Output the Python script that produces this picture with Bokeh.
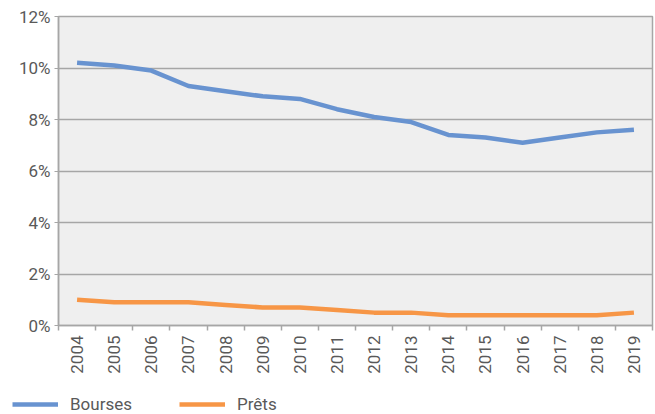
from bokeh.plotting import figure
from bokeh.models import FixedTicker, PrintfTickFormatter, Legend, LegendItem, Range1d
from bokeh.layouts import column, row
from bokeh.embed import file_html
from bokeh.resources import INLINE
import math

years = ["2004", "2005", "2006", "2007", "2008", "2009", "2010", "2011",
         "2012", "2013", "2014", "2015", "2016", "2017", "2018", "2019"]
bourses = [10.2, 10.1, 9.9, 9.3, 9.1, 8.9, 8.8, 8.4, 8.1, 7.9, 7.4, 7.3, 7.1, 7.3, 7.5, 7.6]
prets = [1.0, 0.9, 0.9, 0.9, 0.8, 0.7, 0.7, 0.6, 0.5, 0.5, 0.4, 0.4, 0.4, 0.4, 0.4, 0.5]
series_names = ["Bourses", "Prêts"]
y_ticks = [0, 2, 4, 6, 8, 10, 12]

n = len(years)
xs = [i + 0.5 for i in range(n)]

TEXT = "#595959"
GRID = "#A6A6A6"
FONT = "Roboto"
FS = "17px"
BLUE = "#6893D0"
ORANGE = "#F79646"

p = figure(width=655, height=380, output_backend="svg", toolbar_location=None,
           x_range=Range1d(0, n), y_range=Range1d(0, 12),
           min_border_left=58, min_border_right=3, min_border_top=16, min_border_bottom=55)
p.background_fill_color = "#EFEFEF"
p.border_fill_color = "white"
p.outline_line_color = GRID
p.outline_line_width = 1.5

p.line(xs, bourses, line_color=BLUE, line_width=4.5, line_join="round")
p.line(xs, prets, line_color=ORANGE, line_width=4.5, line_join="round")

# x axis
xa = p.xaxis[0]
xa.ticker = FixedTicker(ticks=xs, minor_ticks=list(range(n + 1)))
xa.major_label_overrides = {x: y for x, y in zip(xs, years)}
xa.major_label_orientation = math.pi / 2
xa.major_tick_line_color = None
xa.minor_tick_line_color = GRID
xa.minor_tick_out = 5
xa.minor_tick_in = 0
xa.minor_tick_line_width = 1.5
xa.axis_line_color = GRID
xa.axis_line_width = 1.5
xa.major_label_text_font = FONT
xa.major_label_text_font_size = FS
xa.major_label_text_color = TEXT
xa.major_label_standoff = 4

# y axis
ya = p.yaxis[0]
ya.ticker = FixedTicker(ticks=y_ticks)
ya.formatter = PrintfTickFormatter(format="%d%%")
ya.major_tick_line_color = GRID
ya.major_tick_out = 4
ya.major_tick_in = 0
ya.minor_tick_line_color = None
ya.axis_line_color = GRID
ya.axis_line_width = 1.5
ya.major_label_text_font = FONT
ya.major_label_text_font_size = FS
ya.major_label_text_color = TEXT
ya.major_label_standoff = 4

p.xgrid.grid_line_color = None
p.ygrid.ticker = FixedTicker(ticks=y_ticks)
p.ygrid.grid_line_color = GRID
p.ygrid.grid_line_width = 1.5

# legend strip below the chart
pl = figure(width=655, height=34, output_backend="svg", toolbar_location=None,
            x_range=Range1d(100, 101), y_range=Range1d(100, 101),
            x_axis_location=None, y_axis_location=None,
            min_border_left=0, min_border_right=0, min_border_top=0, min_border_bottom=0)
pl.grid.visible = False
pl.outline_line_color = None
pl.background_fill_color = "white"
l1 = pl.line(xs, bourses, line_color=BLUE, line_width=4.5)
l2 = pl.line(xs, prets, line_color=ORANGE, line_width=4.5)

legend = Legend(items=[LegendItem(label=series_names[0], renderers=[l1]),
                       LegendItem(label=series_names[1], renderers=[l2])],
                orientation="horizontal", location=(12, 0))
legend.glyph_width = 46
legend.glyph_height = 18
legend.label_height = 18
legend.label_standoff = 12
legend.spacing = 47
legend.padding = 0
legend.margin = 0
legend.border_line_alpha = 0
legend.background_fill_alpha = 0
legend.label_text_font = FONT
legend.label_text_font_size = FS
legend.label_text_color = TEXT
pl.add_layout(legend, "center")

layout = column(p, row(pl, spacing=0), spacing=0)
open("out.html", "w").write(file_html(layout, INLINE))
